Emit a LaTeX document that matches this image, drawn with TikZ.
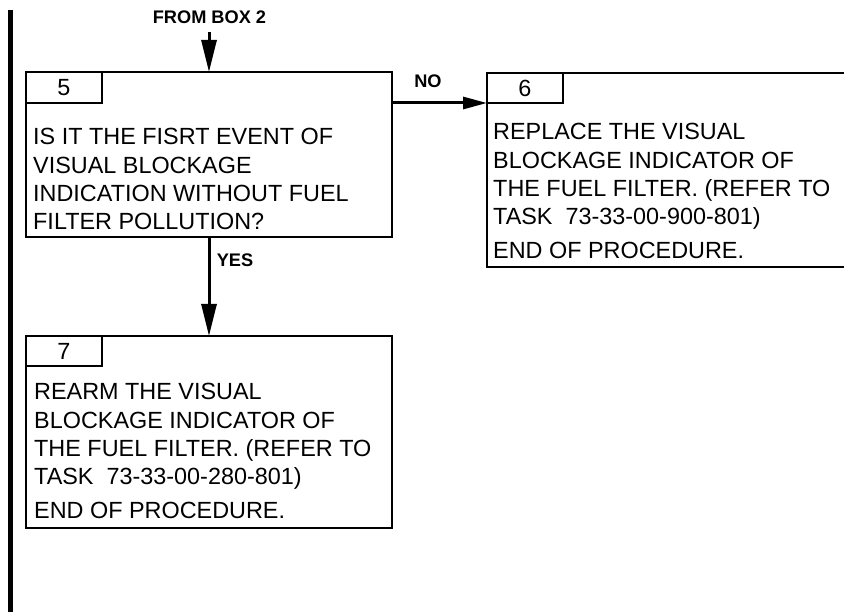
\documentclass[tikz,border=0pt]{standalone}
\usepackage{fontspec}
\setmainfont{Liberation Sans}
\usetikzlibrary{arrows.meta}

\begin{document}
\begin{tikzpicture}[x=1pt, y=-1pt,
    every node/.style={font=\fontsize{23.4}{28.3}\selectfont},
    box/.style={draw, line width=2pt, outer sep=0pt, inner sep=0pt},
    tab/.style={draw, line width=2pt, outer sep=0pt, inner sep=0pt, minimum width=76pt, minimum height=31pt, anchor=north west},
    txt/.style={anchor=north west, align=left, inner sep=0pt},
    lbl/.style={font=\fontsize{18.2}{20}\selectfont\bfseries, inner sep=0pt},
    conn/.style={line width=3pt, -{Triangle[length=32pt,width=15pt]}}]
    \useasboundingbox (0,0) rectangle (844,612);
    \clip (0,0) rectangle (844,612);
    \draw[line width=4.5pt] (10.5,10) -- (10.5,612);

    \node[box, minimum width=366pt, minimum height=165pt] (b5) at (209,154.5) {};
    \node[tab] (t5) at (b5.north west) {5};
    \node[txt] (x5) at (33,128.3) {IS IT THE FISRT EVENT OF\\VISUAL BLOCKAGE\\INDICATION WITHOUT FUEL\\FILTER POLLUTION?};

    \node[box, minimum width=373pt, minimum height=194pt] (b6) at (673.5,170) {};
    \node[tab, minimum height=30pt] (t6) at (b6.north west) {6};
    \node[txt] (x6) at (493,123.3) {REPLACE THE VISUAL\\BLOCKAGE INDICATOR OF\\THE FUEL FILTER. (REFER TO\\TASK\ \ 73-33-00-900-801)\\[5.5pt]END OF PROCEDURE.};

    \node[box, minimum width=366pt, minimum height=192pt] (b7) at (209,432) {};
    \node[tab, minimum height=30pt] (t7) at (b7.north west) {7};
    \node[txt] (x7) at (34,383.3) {REARM THE VISUAL\\BLOCKAGE INDICATOR OF\\THE FUEL FILTER. (REFER TO\\TASK\ \ 73-33-00-280-801)\\[5.5pt]END OF PROCEDURE.};

    \node[lbl] (from) at (209.5,17.5) {FROM BOX 2};
    \node[lbl] (no) at (428,81.5) {NO};
    \node[lbl] (yes) at (235,260) {YES};

    \coordinate (top) at (209,32);
    \draw[conn] (top) -- (b5.north);
    \draw[conn] (b5.south) -- (b7.north);
    \draw[conn, -{Triangle[length=24pt,width=12pt]}] (b5.east |- t6.south west) -- (t6.south west);
\end{tikzpicture}
\end{document}
